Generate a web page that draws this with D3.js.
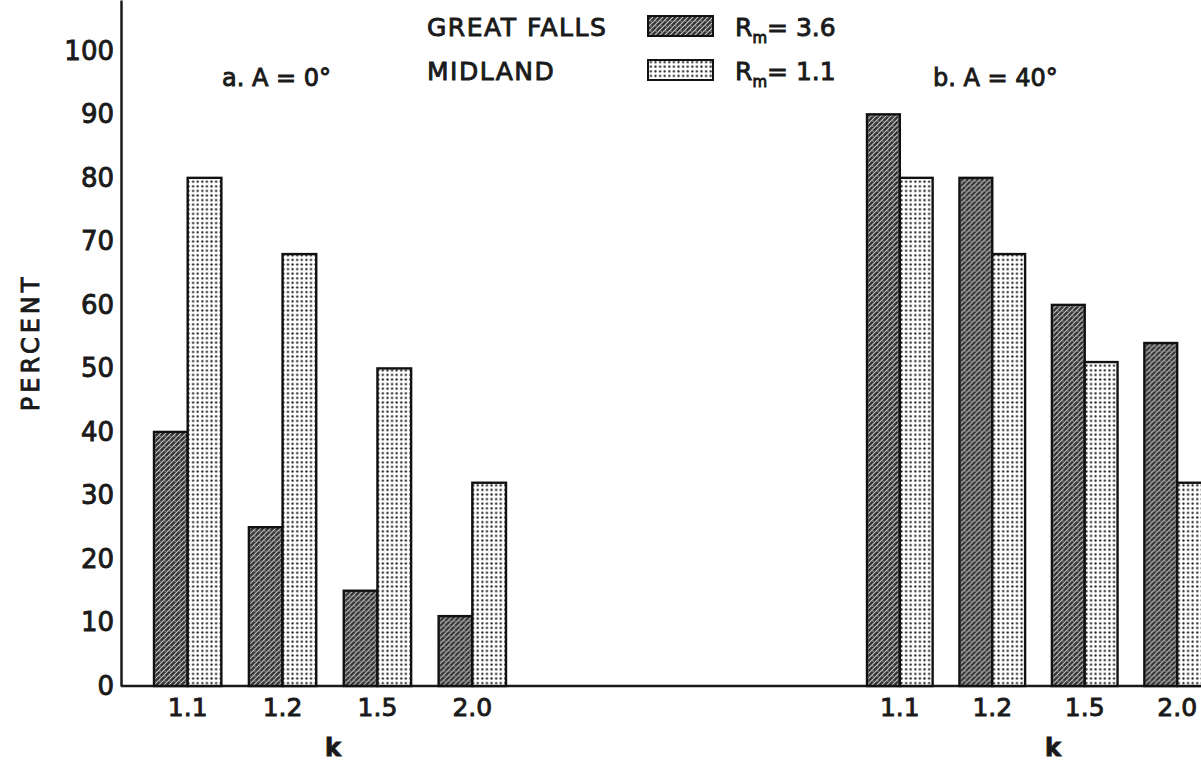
<!DOCTYPE html>
<html>
<head>
<meta charset="utf-8">
<script src="https://cdn.jsdelivr.net/npm/d3@7"></script>
<style>
  body { margin: 0; background: #fff; }
  text { font-family: "DejaVu Sans", sans-serif; fill: #1a1a1a; stroke: #1a1a1a; stroke-width: 0.9px; }
</style>
</head>
<body>
<svg id="chart" width="1201" height="763"></svg>
<script>
const kValues = ['1.1', '1.2', '1.5', '2.0'];
const series = ['GREAT FALLS', 'MIDLAND'];
// percent, panel a (A = 0 deg)
const greatFallsA = [40, 25, 15, 11];
const midlandA = [80, 68, 50, 32];
// percent, panel b (A = 40 deg)
const greatFallsB = [90, 80, 60, 54];
const midlandB = [80, 68, 51, 32];
const yTicks = [0, 10, 20, 30, 40, 50, 60, 70, 80, 90, 100];

const svg = d3.select('#chart');
const width = 1201;
const baseY = 686;

// patterns
const defs = svg.append('defs');
const hatch = defs.append('pattern')
  .attr('id', 'gf').attr('patternUnits', 'userSpaceOnUse')
  .attr('width', 5).attr('height', 5);
hatch.append('rect').attr('width', 5).attr('height', 5).attr('fill', '#333');
hatch.append('path')
  .attr('d', 'M0,5 L5,0 M-1,1 L1,-1 M4,6 L6,4')
  .attr('stroke', '#c8c8c8').attr('stroke-width', 1.1);
hatch.append('circle').attr('cx', 1).attr('cy', 1).attr('r', 0.6).attr('fill', '#eee');

const dots = defs.append('pattern')
  .attr('id', 'mi').attr('patternUnits', 'userSpaceOnUse')
  .attr('width', 4.6).attr('height', 4.6);
dots.append('rect').attr('width', 4.6).attr('height', 4.6).attr('fill', '#fff');
dots.append('circle').attr('cx', 2.3).attr('cy', 2.3).attr('r', 1.15).attr('fill', '#1a1a1a');

const fills = { 'GREAT FALLS': 'url(#gf)', 'MIDLAND': 'url(#mi)' };

const y = d3.scaleLinear().domain([0, 108]).range([baseY, 0]);

// y axis
svg.append('g')
  .attr('transform', 'translate(121,0)')
  .call(d3.axisLeft(y).tickValues(yTicks).tickSize(0).tickPadding(7))
  .call(g => g.select('.domain').attr('stroke', '#1a1a1a').attr('stroke-width', 2.5))
  .call(g => g.selectAll('text').attr('font-size', 26).style('font-family', '"DejaVu Sans", sans-serif').attr('fill', '#1a1a1a'));

svg.append('text')
  .attr('transform', `translate(39,${y(50) - 26}) rotate(-90)`)
  .attr('text-anchor', 'middle')
  .attr('font-size', 24)
  .attr('letter-spacing', 4)
  .text('PERCENT');

// baseline
svg.append('line')
  .attr('x1', 121).attr('x2', width)
  .attr('y1', y(0)).attr('y2', y(0))
  .attr('stroke', '#1a1a1a').attr('stroke-width', 2.5);

function panel(range, gf, mi, kx) {
  const x = d3.scaleBand().domain(kValues).range(range).paddingInner(0.29).paddingOuter(0);
  const xs = d3.scaleBand().domain(series).range([0, x.bandwidth()]);
  const rows = kValues.map((k, i) => ({ k, values: [
    { s: 'GREAT FALLS', v: gf[i] }, { s: 'MIDLAND', v: mi[i] }] }));

  svg.append('g')
    .selectAll('g')
    .data(rows)
    .join('g')
    .attr('transform', d => `translate(${x(d.k)},0)`)
    .selectAll('rect')
    .data(d => d.values)
    .join('rect')
    .attr('x', d => xs(d.s))
    .attr('y', d => y(d.v))
    .attr('width', xs.bandwidth())
    .attr('height', d => y(0) - y(d.v))
    .attr('fill', d => fills[d.s])
    .attr('stroke', '#111')
    .attr('stroke-width', 2.4);

  svg.append('g')
    .attr('transform', `translate(0,${y(0)})`)
    .call(d3.axisBottom(x).tickSize(0).tickPadding(12))
    .call(g => g.select('.domain').remove())
    .call(g => g.selectAll('text').attr('font-size', 25).style('font-family', '"DejaVu Sans", sans-serif').attr('fill', '#1a1a1a'));

  svg.append('text')
    .attr('x', kx).attr('y', 756)
    .attr('text-anchor', 'middle')
    .attr('font-size', 24).attr('font-weight', 'bold')
    .text('k');
}

panel([154, 506], greatFallsA, midlandA, 333);
panel([867, 1210], greatFallsB, midlandB, 1053);

// panel titles
svg.append('text').attr('x', 222).attr('y', 86).attr('font-size', 24).text('a.  A = 0°');
svg.append('text').attr('x', 933).attr('y', 86).attr('font-size', 24).text('b.  A = 40°');

// legend
const legendRm = ['3.6', '1.1'];
series.forEach((s, i) => {
  const ly = 36 + i * 44;
  svg.append('text').attr('x', 427).attr('y', ly).attr('font-size', 25).attr('letter-spacing', 1.5).text(s);
  svg.append('rect')
    .attr('x', 648).attr('y', ly - 20).attr('width', 65).attr('height', 20)
    .attr('fill', fills[s]).attr('stroke', '#111').attr('stroke-width', 2);
  const t = svg.append('text').attr('x', 735).attr('y', ly).attr('font-size', 25);
  t.append('tspan').text('R');
  t.append('tspan').attr('font-size', 15).attr('dy', 7).text('m');
  t.append('tspan').attr('dy', -7).text('= ' + legendRm[i]);
});
</script>
</body>
</html>
